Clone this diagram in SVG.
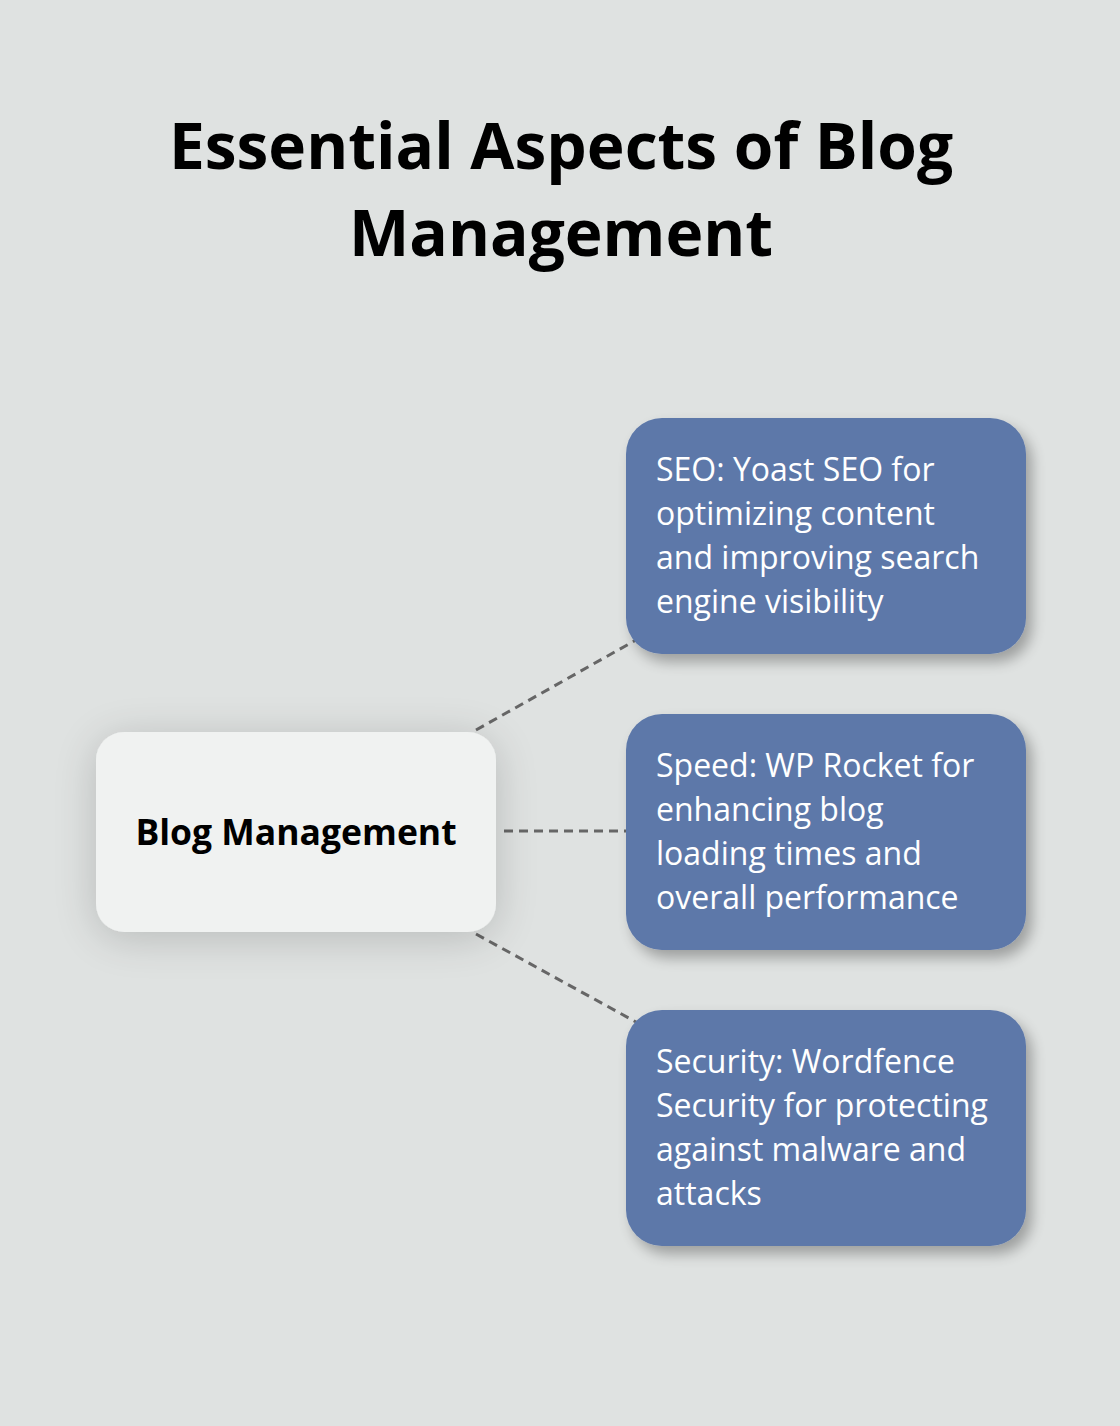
<svg xmlns="http://www.w3.org/2000/svg" width="1120" height="1426" viewBox="0 0 1120 1426">
<defs>
<filter id="sh" x="-20%" y="-20%" width="150%" height="150%">
<feGaussianBlur in="SourceAlpha" stdDeviation="7"/>
<feOffset dx="6" dy="8" result="b"/>
<feComponentTransfer><feFuncA type="linear" slope="0.3"/></feComponentTransfer>
<feMerge><feMergeNode/><feMergeNode in="SourceGraphic"/></feMerge>
</filter>
<filter id="glow" x="-30%" y="-40%" width="160%" height="180%">
<feGaussianBlur in="SourceAlpha" stdDeviation="22"/>
<feOffset dx="0" dy="6"/>
<feComponentTransfer><feFuncA type="linear" slope="0.18"/></feComponentTransfer>
<feMerge><feMergeNode/><feMergeNode in="SourceGraphic"/></feMerge>
</filter>
</defs>
<style>
.title{font-family:"Open Sans","Noto Sans",sans-serif;font-weight:700;font-size:64px;fill:#000;text-anchor:middle}
.blue{fill:#5D78A9}
.bt{font-family:"Open Sans","Noto Sans",sans-serif;font-size:32px;fill:#fff}
.ct{font-family:"Open Sans","Noto Sans",sans-serif;font-weight:700;font-size:35.5px;fill:#000;text-anchor:middle}
.con{stroke:#666;stroke-width:3;stroke-dasharray:9 6;fill:none}
</style>
<rect width="1120" height="1426" fill="#DFE2E1"/>
<g id="title">
<text class="title" x="561" y="169">Essential Aspects of Blog</text>
<text class="title" x="561" y="256">Management</text>
</g>
<g id="connectors">
<line class="con" x1="476" y1="730" x2="636" y2="640"/>
<line class="con" x1="504" y1="831" x2="626" y2="831"/>
<line class="con" x1="476" y1="934" x2="636" y2="1022"/>
</g>
<g id="center">
<rect x="96" y="732" width="400" height="200" rx="28" fill="#F0F2F1" filter="url(#glow)"/>
<text class="ct" x="296" y="845">Blog Management</text>
</g>
<g id="seo">
<rect class="blue" x="626" y="418" width="400" height="236" rx="36" filter="url(#sh)"/>
<text class="bt" x="656" y="481">SEO: Yoast SEO for</text>
<text class="bt" x="656" y="525">optimizing content</text>
<text class="bt" x="656" y="569">and improving search</text>
<text class="bt" x="656" y="613">engine visibility</text>
</g>
<g id="speed">
<rect class="blue" x="626" y="714" width="400" height="236" rx="36" filter="url(#sh)"/>
<text class="bt" x="656" y="777">Speed: WP Rocket for</text>
<text class="bt" x="656" y="821">enhancing blog</text>
<text class="bt" x="656" y="865">loading times and</text>
<text class="bt" x="656" y="909">overall performance</text>
</g>
<g id="security">
<rect class="blue" x="626" y="1010" width="400" height="236" rx="36" filter="url(#sh)"/>
<text class="bt" x="656" y="1073">Security: Wordfence</text>
<text class="bt" x="656" y="1117">Security for protecting</text>
<text class="bt" x="656" y="1161">against malware and</text>
<text class="bt" x="656" y="1205">attacks</text>
</g>
</svg>
